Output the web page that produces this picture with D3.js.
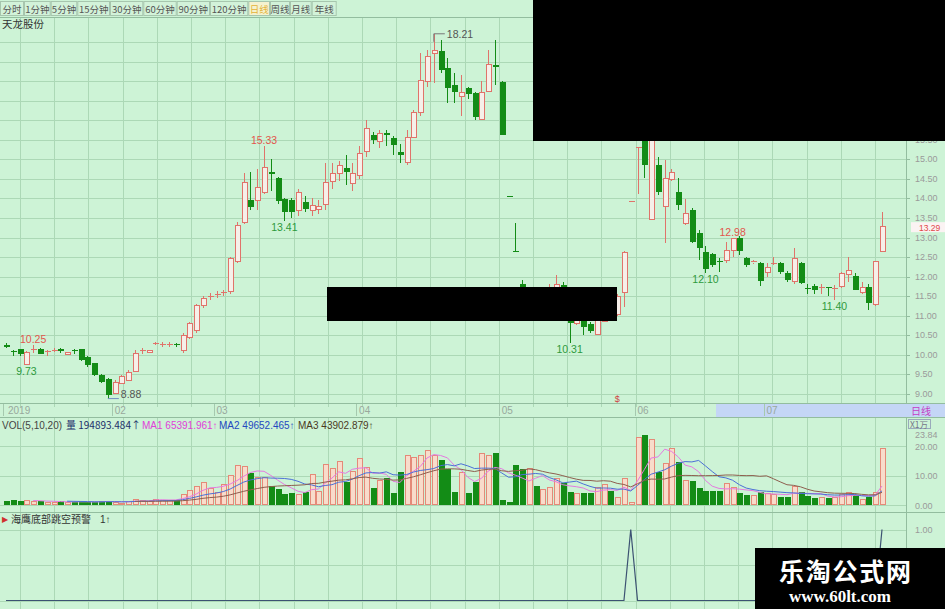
<!DOCTYPE html>
<html><head><meta charset="utf-8">
<script src="https://cdn.jsdelivr.net/npm/d3@7/dist/d3.min.js"></script>
<style>
body{margin:0;background:#cdf3d6;overflow:hidden}
svg{display:block}
text{font-family:"Liberation Sans",Arial,sans-serif}
.cjk{font-family:"Noto Sans CJK SC","Noto Sans",sans-serif}
</style>
</head><body>
<svg id="c" width="945" height="609"></svg>
<script>
// ---------------- DATA ----------------
const opens = [10.24,10.10,10.14,9.78,10.12,10.16,10.08,10.11,10.14,10.03,
10.13,10.14,9.94,9.78,9.48,9.38,9.03,9.28,9.36,9.57,
10.10,10.08,10.28,10.26,10.26,10.28,10.12,10.46,10.63,11.27,
11.48,11.52,11.58,11.62,12.40,13.40,13.96,13.96,14.17,14.68,
14.51,13.98,13.96,13.70,13.92,13.70,13.72,13.88,14.43,14.64,
14.77,14.39,14.60,15.19,15.62,15.45,15.66,15.54,15.19,14.94,
15.58,16.22,16.98,17.71,17.78,17.33,16.90,16.64,16.82,16.70,
16.05,16.73,17.40,16.98,14.06,12.65,11.80,11.20,11.60,11.40,
11.50,11.71,11.78,11.25,10.82,10.95,10.79,10.53,10.88,11.20,
11.05,11.62,13.93,15.32,15.60,13.49,14.85,13.79,14.51,14.17,
13.36,13.70,13.11,12.64,12.58,12.40,12.41,12.67,12.98,12.47,
12.36,12.34,12.12,12.33,12.34,12.10,11.87,12.34,11.72,11.76,
11.72,11.73,11.69,11.74,12.06,12.02,11.61,11.74,11.30,12.64];
const highs = [10.30,10.11,10.16,10.10,10.25,10.18,10.11,10.17,10.17,10.08,
10.14,10.16,9.96,9.80,9.50,9.40,9.35,9.48,9.60,10.12,
10.17,10.13,10.33,10.32,10.32,10.31,10.55,10.85,11.30,11.50,
11.58,11.62,11.66,12.50,13.40,14.65,14.68,14.75,15.33,15.00,
14.55,14.00,14.00,14.25,14.05,14.00,13.95,14.90,14.90,14.95,
15.12,14.90,15.35,16.00,15.70,15.75,15.75,15.60,15.40,15.75,
16.25,17.71,17.80,18.21,18.05,17.60,17.20,17.15,16.85,16.72,
17.00,17.79,18.05,17.00,14.06,13.37,11.91,11.70,11.70,11.62,
11.80,12.04,11.85,11.30,11.05,11.00,10.85,11.00,11.25,11.30,
11.55,12.65,13.93,15.32,15.90,15.60,15.07,14.98,14.75,14.52,
13.98,13.75,13.20,12.77,12.60,12.47,12.89,12.98,13.05,12.50,
12.42,12.37,12.34,12.50,12.37,12.15,12.72,12.38,11.80,11.80,
11.80,11.73,11.78,12.12,12.51,12.08,11.87,11.80,12.41,13.66];
const lows = [10.18,9.98,9.98,9.73,10.05,10.02,9.98,10.07,10.05,10.02,
10.02,9.85,9.70,9.45,9.28,8.88,9.00,9.25,9.33,9.55,
10.03,10.07,10.25,10.20,10.20,10.20,10.05,10.40,10.55,11.20,
11.40,11.45,11.50,11.55,12.35,13.35,13.70,13.70,14.10,14.20,
13.85,13.41,13.50,13.55,13.65,13.55,13.60,13.70,14.25,14.45,
14.35,14.20,14.50,15.05,15.40,15.30,15.35,15.10,14.90,14.85,
15.55,16.10,16.85,16.94,17.20,16.45,16.45,16.10,16.55,16.00,
16.00,16.73,16.90,15.62,14.06,12.65,11.39,11.10,11.35,11.30,
11.45,11.60,11.25,10.31,10.75,10.50,10.55,10.50,10.85,11.00,
11.00,11.23,13.93,14.10,14.52,13.49,14.09,12.85,14.45,13.70,
13.33,12.85,12.42,12.10,12.25,12.13,12.35,12.50,12.55,12.25,
12.33,11.75,11.98,12.30,12.07,11.87,11.82,11.80,11.55,11.55,
11.55,11.50,11.40,11.70,11.85,11.65,11.55,11.15,11.25,12.62];
const closes = [10.20,10.09,10.00,10.08,10.15,10.04,10.10,10.13,10.08,10.07,
10.10,9.87,9.73,9.48,9.30,8.97,9.31,9.45,9.57,10.04,
10.12,10.12,10.30,10.27,10.27,10.27,10.50,10.82,11.27,11.45,
11.50,11.55,11.60,12.47,13.32,14.43,13.79,14.30,14.81,14.62,
13.92,13.66,13.66,14.17,13.75,13.83,13.80,14.43,14.64,14.85,
14.68,14.64,15.15,15.79,15.49,15.66,15.62,15.37,15.11,15.58,
16.22,17.03,17.63,17.79,17.30,16.82,16.73,16.73,16.67,16.09,
16.73,17.43,17.35,15.62,14.06,12.65,11.39,11.60,11.45,11.55,
11.72,11.81,11.30,10.82,10.95,10.72,10.62,10.95,11.20,11.05,
11.50,12.64,13.93,15.32,14.85,15.50,14.17,14.51,14.68,13.83,
13.62,12.89,12.72,12.21,12.30,12.38,12.67,12.98,12.64,12.30,
12.39,11.87,12.25,12.35,12.12,11.91,12.47,11.83,11.71,11.67,
11.74,11.72,11.71,12.08,12.17,11.67,11.74,11.32,12.41,13.29];
// volume, unit: 10 000 shares (X1万)
const volumes = [1.5,1.6,1.4,1.7,1.3,1.2,1.0,1.1,1.2,0.9,
1.0,1.2,1.1,1.0,1.2,1.5,1.0,0.8,1.2,2.0,
1.6,1.5,2.0,1.8,1.6,1.7,3.7,5.1,6.4,7.9,
5.9,4.5,7.0,10.2,13.6,13.3,11.0,9.6,9.6,6.6,
5.4,3.6,4.0,3.7,4.3,10.4,4.7,13.8,12.4,14.9,
7.9,11.5,15.8,13.0,5.6,8.5,9.0,4.0,11.1,16.9,
16.2,16.9,18.6,16.9,15.3,12.2,4.5,11.1,4.0,7.9,
17.5,16.9,17.5,1.7,0.9,13.6,12.1,12.4,6.4,5.4,
6.2,9.0,7.3,4.5,4.0,4.0,4.0,6.2,7.1,4.7,
2.8,9.3,0.9,23.2,23.84,22.4,11.1,14.1,19.4,14.5,
8.5,8.1,5.9,4.7,4.7,4.7,7.3,6.2,4.0,3.4,
3.4,4.3,4.0,3.6,2.8,2.8,6.6,4.3,3.2,2.5,
2.8,2.3,2.8,3.6,4.3,3.4,2.0,2.8,4.5,19.49];
// 海鹰底部跳空预警 signal
const signal = [0,0,0,0,0,0,0,0,0,0, 0,0,0,0,0,0,0,0,0,0,
0,0,0,0,0,0,0,0,0,0, 0,0,0,0,0,0,0,0,0,0,
0,0,0,0,0,0,0,0,0,0, 0,0,0,0,0,0,0,0,0,0,
0,0,0,0,0,0,0,0,0,0, 0,0,0,0,0,0,0,0,0,0,
0,0,0,0,0,0,0,0,0,0, 0,0,1,0,0,0,0,0,0,0,
0,0,0,0,0,0,0,0,0,0, 0,0,0,0,0,0,0,0,0,0,
0,0,0,0,0,0,0,0,0,1];
const priceTicks = [9.0,9.5,10.0,10.5,11.0,11.5,12.0,12.5,13.0,13.5,14.0,14.5,15.0,15.5,16.0,16.5,17.0,17.5,18.0];
const volTicks = [0,10,20,23.84];
const sigTicks = [0,0.5,1];
const monthLabels = [{i:0,t:"2019"},{i:16,t:"02"},{i:31,t:"03"},{i:52,t:"04"},{i:73,t:"05"},{i:93,t:"06"},{i:112,t:"07"}];
const marks = [
 {i:4,v:10.25,t:"10.25",k:"hi"},{i:3,v:9.73,t:"9.73",k:"lo"},{i:15,v:8.88,t:"8.88",k:"min"},
 {i:38,v:15.33,t:"15.33",k:"hi"},{i:41,v:13.41,t:"13.41",k:"lo"},{i:63,v:18.21,t:"18.21",k:"max"},
 {i:83,v:10.31,t:"10.31",k:"lo"},{i:103,v:12.10,t:"12.10",k:"lo"},{i:107,v:12.98,t:"12.98",k:"hi"},
 {i:122,v:11.40,t:"11.40",k:"lo"}];
const periods = ["分时","1分钟","5分钟","15分钟","30分钟","60分钟","90分钟","120分钟","日线","周线","月线","年线"];
const volHeader = [["VOL(5,10,20)","#444"],["量 194893.484↑","#1c2f6a"],["MA1 65391.961↑","#e040d8"],["MA2 49652.465↑","#2448c0"],["MA3 43902.879↑","#4a3a1e"]];
const stockName = "天龙股份";
const lastClose = 13.29;
const indicatorName = "海鹰底部跳空预警";

// ---------------- DRAW ----------------
const svg = d3.select("#c");
const W=945, H=609, AX=906;
const BG="#cdf3d6", GRID="#acd8b6", BORDER="#93bd9f";
const RED="#e0736a", REDFILL="#f6efe9", GREEN="#138c16", VREDFILL="#f8dccb";
const N = closes.length;

const x = d3.scaleLinear().domain([0, N-1]).range([6, 882]);
const y = d3.scaleLinear().domain([9, 15]).range([393.9, 159.3]);
const yv = d3.scaleLinear().domain([0, 20]).range([505, 446]);
const ys = d3.scaleLinear().domain([0, 1]).range([600.5, 529.5]);

svg.append("rect").attr("width",W).attr("height",H).attr("fill",BG);

// vertical grid
const vgrid = d3.range(0, 26).map(k => 20 + k*34.2);
const g = svg.append("g").attr("stroke",GRID).attr("stroke-width",1).attr("shape-rendering","crispEdges");
vgrid.forEach(v=>{
  [[17,403],[418,512],[513,609]].forEach(([a,b])=>g.append("line").attr("x1",Math.round(v)+.5).attr("x2",Math.round(v)+.5).attr("y1",a).attr("y2",b));
  g.append("line").attr("x1",Math.round(v)+.5).attr("x2",Math.round(v)+.5).attr("y1",403).attr("y2",407);
});
priceTicks.forEach(p=>g.append("line").attr("x1",0).attr("x2",AX).attr("y1",Math.round(y(p))+.5).attr("y2",Math.round(y(p))+.5));
[0,10,20].forEach(v=>g.append("line").attr("x1",0).attr("x2",AX).attr("y1",Math.round(yv(v))+.5).attr("y2",Math.round(yv(v))+.5));
sigTicks.forEach(v=>g.append("line").attr("x1",0).attr("x2",AX).attr("y1",Math.round(ys(v))+.5).attr("y2",Math.round(ys(v))+.5));

// panel borders
const b = svg.append("g").attr("stroke",BORDER).attr("shape-rendering","crispEdges");
[17.5,403.5,417.5,512.5].forEach(v=>b.append("line").attr("x1",0).attr("x2",W).attr("y1",v).attr("y2",v));
b.append("line").attr("x1",AX+.5).attr("x2",AX+.5).attr("y1",17).attr("y2",H);

// toolbar
const tb = svg.append("g");
const cellX = [0,24,50.7,77.3,110,143.3,176.7,210,248.3,270,290,311.7,336.7];
periods.forEach((p,k)=>{
  const x0=cellX[k], x1=cellX[k+1];
  tb.append("rect").attr("x",x0+.5).attr("y",1.5).attr("width",x1-x0-1).attr("height",14)
    .attr("fill", p==="日线" ? "#f4f2cf" : "#d2f2d9").attr("stroke","#a7c6ae");
  tb.append("text").attr("class","cjk").attr("x",(x0+x1)/2).attr("y",12.5).attr("text-anchor","middle")
    .attr("font-size",9.5).attr("fill", p==="日线" ? "#e4b238" : "#555").text(p);
});
svg.append("text").attr("class","cjk").attr("x",2).attr("y",28).attr("font-size",10.5).attr("fill","#333").text(stockName);

// date row
svg.append("rect").attr("x",716).attr("y",404).attr("width",W-716).attr("height",13).attr("fill","#c4d6f6");
monthLabels.forEach(m=>{
  svg.append("line").attr("x1",Math.round(x(m.i))-2.5).attr("x2",Math.round(x(m.i))-2.5).attr("y1",404).attr("y2",416).attr("stroke","#a5c9ae");
  svg.append("text").attr("x",x(m.i)+(m.i===0?2:0)).attr("y",414).attr("font-size",10).attr("fill","#98a89c").text(m.t);
});
svg.append("text").attr("class","cjk").attr("x",911).attr("y",414.5).attr("font-size",10).attr("fill","#c43dc4").text("日线");

// candles
const cg = svg.append("g").attr("shape-rendering","crispEdges");
for(let i=0;i<N;i++){
  const o=opens[i], c=closes[i], hi=highs[i], lo=lows[i];
  const up = c>o || (c===o && i>0 && c>=closes[i-1]);
  const cx = Math.round(x(i))+.5;
  const top = Math.min(y(o),y(c)), bot=Math.max(y(o),y(c));
  const hgt = Math.max(1, bot-top);
  if(up){
    cg.append("line").attr("x1",cx).attr("x2",cx).attr("y1",y(hi)).attr("y2",top).attr("stroke",RED);
    cg.append("line").attr("x1",cx).attr("x2",cx).attr("y1",top+hgt).attr("y2",y(lo)).attr("stroke",RED);
    if(hgt>1.5) cg.append("rect").attr("x",cx-2.5).attr("y",Math.round(top)+.5).attr("width",5).attr("height",Math.round(hgt)).attr("fill",REDFILL).attr("stroke",RED);
    else cg.append("line").attr("x1",cx-3).attr("x2",cx+3).attr("y1",Math.round(top)+.5).attr("y2",Math.round(top)+.5).attr("stroke",RED);
  } else {
    cg.append("line").attr("x1",cx).attr("x2",cx).attr("y1",y(hi)).attr("y2",y(lo)).attr("stroke",GREEN);
    cg.append("rect").attr("x",cx-2.5).attr("y",Math.round(top)).attr("width",6).attr("height",Math.max(1,Math.round(hgt))).attr("fill",GREEN);
  }
}

// high / low labels
marks.forEach(m=>{
  const cx=x(m.i), yy=y(m.v);
  if(m.k==="hi") svg.append("text").attr("x",cx).attr("y",yy-2).attr("text-anchor","middle").attr("font-size",10.5).attr("fill","#e2564c").text(m.t);
  else if(m.k==="lo") svg.append("text").attr("x",cx).attr("y",yy+10).attr("text-anchor","middle").attr("font-size",10.5).attr("fill","#2d9a3c").text(m.t);
  else if(m.k==="min"){
    svg.append("line").attr("x1",cx).attr("x2",cx+11).attr("y1",yy).attr("y2",yy).attr("stroke","#6f8fc0");
    svg.append("text").attr("x",cx+13).attr("y",yy-1).attr("font-size",10.5).attr("fill","#555").text(m.t);
  } else {
    svg.append("path").attr("d",`M${cx},${yy+8}V${yy}H${cx+11}`).attr("fill","none").attr("stroke","#777");
    svg.append("text").attr("x",cx+13).attr("y",yy+4).attr("font-size",10.5).attr("fill","#555").text(m.t);
  }
});
// event marker
svg.append("text").attr("x",x(90)).attr("y",402).attr("text-anchor","middle").attr("font-size",9).attr("fill","#d04040").text("$");

// price axis
priceTicks.forEach(p=>{
  svg.append("line").attr("x1",AX).attr("x2",AX+4).attr("y1",Math.round(y(p))+.5).attr("y2",Math.round(y(p))+.5).attr("stroke",BORDER);
  svg.append("text").attr("x",915).attr("y",y(p)+3).attr("font-size",9).attr("fill","#9a9a9a").text(p.toFixed(2));
});
svg.append("rect").attr("x",911).attr("y",y(lastClose)-4).attr("width",34).attr("height",10).attr("fill","#fbf3f3");
svg.append("text").attr("x",919).attr("y",y(lastClose)+4.5).attr("font-size",8.5).attr("fill","#e04848").text(lastClose.toFixed(2));

// volume bars
const vg = svg.append("g").attr("shape-rendering","crispEdges");
for(let i=0;i<N;i++){
  const o=opens[i], c=closes[i];
  const up = c>o || (c===o && i>0 && c>=closes[i-1]);
  const cx=Math.round(x(i))+.5, t=yv(volumes[i]), hh=Math.max(1,yv(0)-t);
  if(up) vg.append("rect").attr("x",cx-2.5).attr("y",Math.round(t)+.5).attr("width",5).attr("height",Math.max(1,Math.round(hh)-1)).attr("fill",VREDFILL).attr("stroke","#e48a78");
  else vg.append("rect").attr("x",cx-2.5).attr("y",Math.round(t)).attr("width",6).attr("height",Math.round(hh)).attr("fill",GREEN);
}
// moving averages
function ma(n){ return volumes.map((v,i)=> i<n-1 ? null : d3.mean(volumes.slice(i-n+1,i+1))); }
const line = d3.line().defined(d=>d!==null).x((d,i)=>x(i)).y(d=>yv(d));
[[5,"#e57ae0"],[10,"#4c6fd6"],[20,"#8e5e4e"]].forEach(([n,col])=>{
  svg.append("path").datum(ma(n)).attr("d",line).attr("fill","none").attr("stroke",col).attr("stroke-width",1);
});
// volume header
const hx = [2,66,142,219,298];
volHeader.forEach(([t,col],k)=>{
  svg.append("text").attr("class", k===1 ? "cjk" : null).attr("x",hx[k]).attr("y",429).attr("font-size",10).attr("fill",col).text(t);
});
// volume axis
svg.append("rect").attr("x",908.5).attr("y",419.5).attr("width",22).attr("height",9).attr("fill","none").attr("stroke","#9ab");
svg.append("text").attr("class","cjk").attr("x",910).attr("y",427.5).attr("font-size",8.5).attr("fill","#778").text("X1万");
volTicks.forEach(v=>svg.append("text").attr("x",915).attr("y",yv(v)+3.5).attr("font-size",9).attr("fill","#9a9a9a").text(v.toFixed(2)));

// indicator panel
svg.append("path").datum(signal).attr("d",d3.line().x((d,i)=>x(i)).y(d=>ys(d))).attr("fill","none").attr("stroke","#3c5272").attr("stroke-width",1.2);
svg.append("text").attr("x",2).attr("y",522).attr("font-size",8).attr("fill","#d03030").text("▶");
svg.append("text").attr("class","cjk").attr("x",11).attr("y",523).attr("font-size",10).attr("fill","#333").text(indicatorName);
svg.append("text").attr("x",100).attr("y",523).attr("font-size",10).attr("fill","#333").text("1↑");
svg.append("text").attr("x",915).attr("y",ys(1)+3.5).attr("font-size",9).attr("fill","#9a9a9a").text("1.00");

// redaction boxes and watermark present in the reference
svg.append("rect").attr("x",533).attr("y",0).attr("width",W-533).attr("height",141).attr("fill","#000");
svg.append("rect").attr("x",327).attr("y",287).attr("width",290).attr("height",34).attr("fill","#000");
svg.append("rect").attr("x",755).attr("y",548).attr("width",W-755).attr("height",61).attr("fill","#000");
svg.append("text").attr("class","cjk").attr("x",845).attr("y",581).attr("text-anchor","middle").attr("font-size",25).attr("font-weight","bold").attr("fill","#fff").attr("textLength",132).text("乐淘公式网");
svg.append("text").attr("x",840).attr("y",602).attr("text-anchor","middle").attr("font-size",17).attr("font-weight","bold").attr("fill","#fff").style("font-family","'Liberation Serif',serif").text("www.60lt.com");
</script>
</body></html>
